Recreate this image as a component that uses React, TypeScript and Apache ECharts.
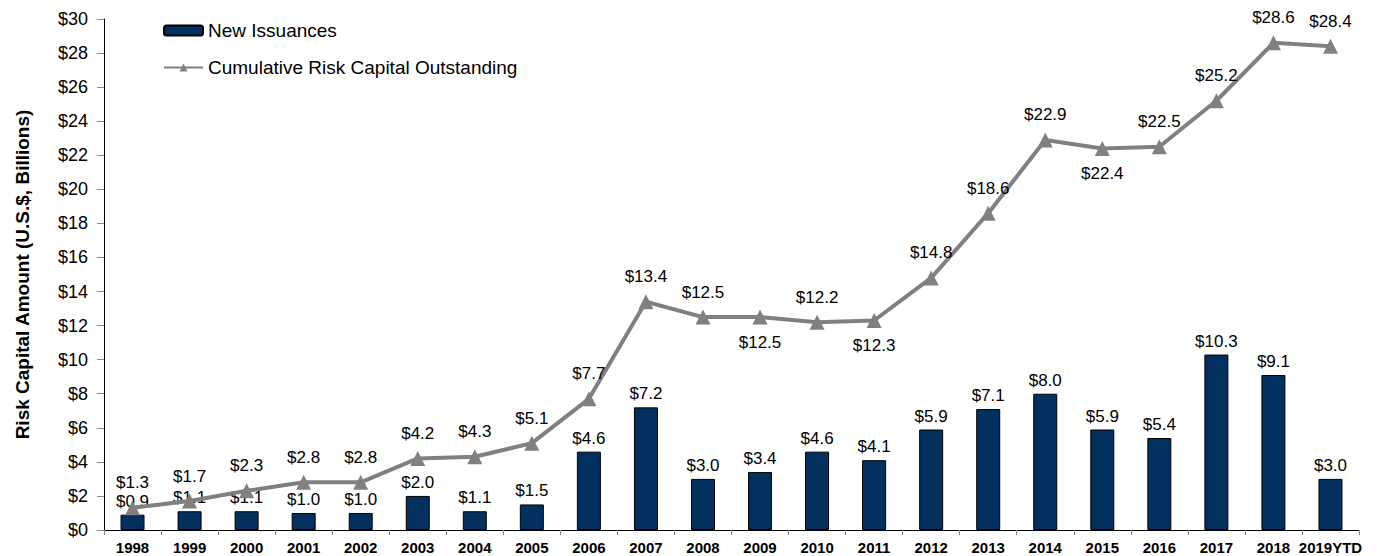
import React, { useEffect, useRef } from "react";
import * as echarts from "echarts";

const categories = ["1998","1999","2000","2001","2002","2003","2004","2005","2006","2007","2008","2009","2010","2011","2012","2013","2014","2015","2016","2017","2018","2019YTD"];
const newIssuances = [0.9,1.1,1.1,1.0,1.0,2.0,1.1,1.5,4.6,7.2,3.0,3.4,4.6,4.1,5.9,7.1,8.0,5.9,5.4,10.3,9.1,3.0];
const cumulative = [1.3,1.7,2.3,2.8,2.8,4.2,4.3,5.1,7.7,13.4,12.5,12.5,12.2,12.3,14.8,18.6,22.9,22.4,22.5,25.2,28.6,28.4];
const labelsBelow = ["2009","2011","2015"];

export default function App() {
  const ref = useRef<HTMLDivElement>(null);
  useEffect(() => {
    const chart = echarts.init(ref.current!, null, { renderer: "svg" });
    const font = "Arial, 'Liberation Sans', sans-serif";
    chart.setOption({
      animation: false,
      textStyle: { fontFamily: font },
      grid: { left: 104, right: 18, top: 19, bottom: 26 },
      legend: {
        orient: "vertical",
        left: 158,
        top: 16,
        itemWidth: 39,
        itemHeight: 10,
        itemGap: 18,
        textStyle: { fontSize: 19, color: "#000", fontFamily: font },
        data: ["New Issuances", "Cumulative Risk Capital Outstanding"],
      },
      xAxis: {
        type: "category",
        data: categories,
        axisLine: { lineStyle: { color: "#000", width: 1 } },
        axisTick: { show: true, alignWithLabel: false, lineStyle: { color: "#888" }, length: 5 },
        axisLabel: { color: "#000", fontWeight: "bold", fontSize: 15, fontFamily: font, margin: 10, interval: 0 },
      },
      yAxis: {
        type: "value",
        min: 0,
        max: 30,
        interval: 2,
        name: "Risk Capital Amount (U.S.$, Billions)",
        nameLocation: "middle",
        nameGap: 72,
        nameTextStyle: { fontSize: 19, fontWeight: "bold", color: "#000", fontFamily: font },
        axisLine: { show: true, lineStyle: { color: "#000", width: 1 } },
        axisTick: { show: true, length: 7, lineStyle: { color: "#888" } },
        splitLine: { show: false },
        axisLabel: { color: "#000", fontSize: 18, fontFamily: font, margin: 16, formatter: (v: number) => "$" + v },
      },
      series: [
        {
          name: "New Issuances",
          type: "bar",
          data: newIssuances,
          barWidth: 24,
          itemStyle: { color: "#03305f", borderColor: "#000", borderWidth: 1 },
          label: {
            show: true,
            position: "top",
            distance: 5,
            fontSize: 17,
            color: "#000",
            fontFamily: font,
            formatter: (p: any) => "$" + Number(p.value).toFixed(1),
          },
        },
        {
          name: "Cumulative Risk Capital Outstanding",
          type: "line",
          data: cumulative.map((v, i) => ({
            value: v,
            label: labelsBelow.includes(categories[i]) ? { position: "bottom" } : undefined,
          })),
          symbol: "triangle",
          symbolSize: 15,
          lineStyle: { color: "#808080", width: 4 },
          itemStyle: { color: "#808080" },
          label: {
            show: true,
            position: "top",
            distance: 9,
            fontSize: 17,
            color: "#000",
            fontFamily: font,
            formatter: (p: any) => "$" + Number(p.value).toFixed(1),
          },
          z: 3,
        },
      ],
    });
    return () => chart.dispose();
  }, []);
  return <div ref={ref} style={{ position: "absolute", left: 0, top: 0, width: 1377, height: 556 }} />;
}
